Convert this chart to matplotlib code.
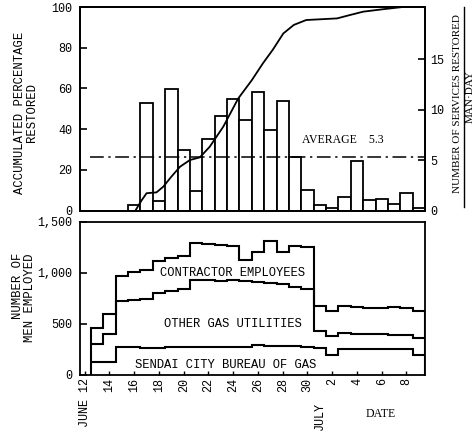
import numpy as np
import matplotlib.pyplot as plt
from matplotlib.transforms import blended_transform_factory

plt.rcParams['font.family'] = ['Liberation Mono', 'DejaVu Sans']

# day numbers run on from June (July 1 = 31)
# services restored per man-day, one bar per day
bar_days = list(range(16, 40))
services = [0.5, 10.6, 0.9, 12.0, 6.0, 1.9, 7.1, 9.4, 11.0, 9.0, 11.7, 8.0, 10.8,
            5.3, 2.0, 0.55, 0.2, 1.3, 4.9, 1.0, 1.1, 0.6, 1.7, 0.2]
average = 5.3

# accumulated percentage restored
pct_days = [16.1, 16.6, 17.0, 17.8, 18.35, 19.0, 19.7, 20.5, 21.3, 22.1, 23.2, 24.4,
            25.5, 26.4, 27.2, 28.05, 28.9, 29.9, 32.4, 33.4, 34.5, 36.1, 37.7, 39.5]
pct_values = [0, 5, 8.5, 8.9, 11.7, 16.6, 21.5, 24.8, 26.1, 31.3, 41.2, 55,
              64, 72.3, 79, 87, 91.2, 93.6, 94.4, 96, 97.7, 98.9, 100, 100]

# men employed (stacked tops)
men_days = list(range(13, 40))
contractor_top = [457, 599, 970, 1010, 1026, 1119, 1142, 1169, 1290, 1280, 1272, 1268,
                  1129, 1202, 1318, 1209, 1268, 1252, 672, 623, 672, 660, 656, 656,
                  662, 656, 623]
other_gas_top = [300, 401, 722, 730, 738, 805, 821, 838, 927, 925, 922, 927, 920, 911,
                 897, 887, 864, 838, 424, 374, 407, 401, 401, 397, 391, 387, 358]
sendai_top = [126, 126, 270, 268, 265, 265, 268, 270, 272, 272, 275, 275, 275, 291,
              281, 281, 281, 275, 258, 192, 248, 248, 248, 248, 248, 248, 192]

tick_days = [12, 14, 16, 18, 20, 22, 24, 26, 28, 30, 32, 34, 36, 38]
tick_labels = ['JUNE 12', '14', '16', '18', '20', '22', '24', '26', '28', '30',
               '2', '4', '6', '8']

W, H = 477, 433
fig = plt.figure(figsize=(W / 100, H / 100), dpi=100)


def box(l, t, r, b):
    return [l / W, 1 - b / H, (r - l) / W, (b - t) / H]


ax = fig.add_axes(box(80, 7, 425, 210.5))
ax2 = ax.twinx()
ax3 = fig.add_axes(box(80, 222, 425, 374.5), sharex=ax)

lw = 1.3
ax2.bar(bar_days, services, width=1.0, color='white', edgecolor='black', lw=lw, zorder=2)
ax2.hlines(average, 12.4, 39.5, colors='black', linestyles=(0, (9, 3, 1.5, 3)), lw=1.1, zorder=3)
ax2.text(29.55, 7.0, 'AVERAGE    5.3', family='Liberation Serif', fontsize=8.5,
         ha='left', va='center')
ax.plot(pct_days, pct_values, color='black', lw=lw)
ax.set_zorder(ax2.get_zorder() + 1)
ax.patch.set_visible(False)

ax.set_xlim(11.62, 39.5)
ax.set_ylim(0, 100)
ax.set_yticks([0, 20, 40, 60, 80, 100])
ax2.set_ylim(0, 20.15)
ax2.set_yticks([0, 5, 10, 15])
ax.tick_params(axis='y', direction='in', length=5, width=1.2, pad=5.5, labelsize=8.5)
ax.tick_params(axis='x', length=0, labelbottom=False)
ax2.tick_params(axis='y', direction='in', length=5, width=1.2, pad=4, labelsize=8.5)

edges = np.append(np.array(men_days) - 0.5, men_days[-1] + 0.5)
ax3.stairs(contractor_top, edges, baseline=0, color='black', lw=1.5)
ax3.stairs(other_gas_top, edges, baseline=None, color='black', lw=1.5)
ax3.stairs(sendai_top, edges, baseline=None, color='black', lw=1.5)
ax3.set_ylim(0, 1500)
ax3.set_yticks([0, 500, 1000, 1500], ['0', '500', '1,000', '1,500'])
ax3.set_xticks(tick_days, tick_labels, rotation=90)
ax3.tick_params(axis='y', direction='in', length=5, width=1.2, pad=5.5, labelsize=8.5)
ax3.tick_params(axis='x', direction='in', length=3, width=1, pad=2.5, labelsize=8.5)

ax3.text(23.94, 999, 'CONTRACTOR EMPLOYEES', ha='center', va='center', fontsize=8.7)
ax3.text(23.94, 497, 'OTHER GAS UTILITIES', ha='center', va='center', fontsize=8.7)
ax3.text(23.42, 93, 'SENDAI CITY BUREAU OF GAS', ha='center', va='center', fontsize=8.7)

trans = blended_transform_factory(ax3.transData, ax3.transAxes)
ax3.text(31, -0.18, 'JULY', rotation=90, ha='center', va='top', transform=trans, fontsize=8.5)
ax3.text(35.94, -0.258, 'DATE', ha='center', va='center', transform=trans,
         family='Liberation Serif', fontsize=8.5)

for a in (ax, ax2, ax3):
    for s in a.spines.values():
        s.set_linewidth(lw)

fig.text(26 / W, 1 - 113 / H, 'ACCUMULATED PERCENTAGE\nRESTORED', rotation=90,
         ha='center', va='center', multialignment='center', linespacing=1.0, fontsize=8.8)
fig.text(24.5 / W, 1 - 253 / H, 'NUMBER OF\nMEN EMPLOYED', rotation=90,
         ha='center', va='top', multialignment='right', linespacing=1.0, fontsize=8.8)
fig.text(458 / W, 1 - 103.5 / H, 'NUMBER OF SERVICES RESTORED', rotation=90,
         ha='center', va='center', family='Liberation Serif', fontsize=8)
fig.text(470 / W, 1 - 97 / H, 'MAN·DAY', rotation=90,
         ha='center', va='center', family='Liberation Serif', fontsize=8)
fig.add_artist(plt.Line2D([464 / W, 464 / W], [1 - 207 / H, 1 - 7 / H], color='black', lw=1))

fig.savefig('out.png', dpi=100)
